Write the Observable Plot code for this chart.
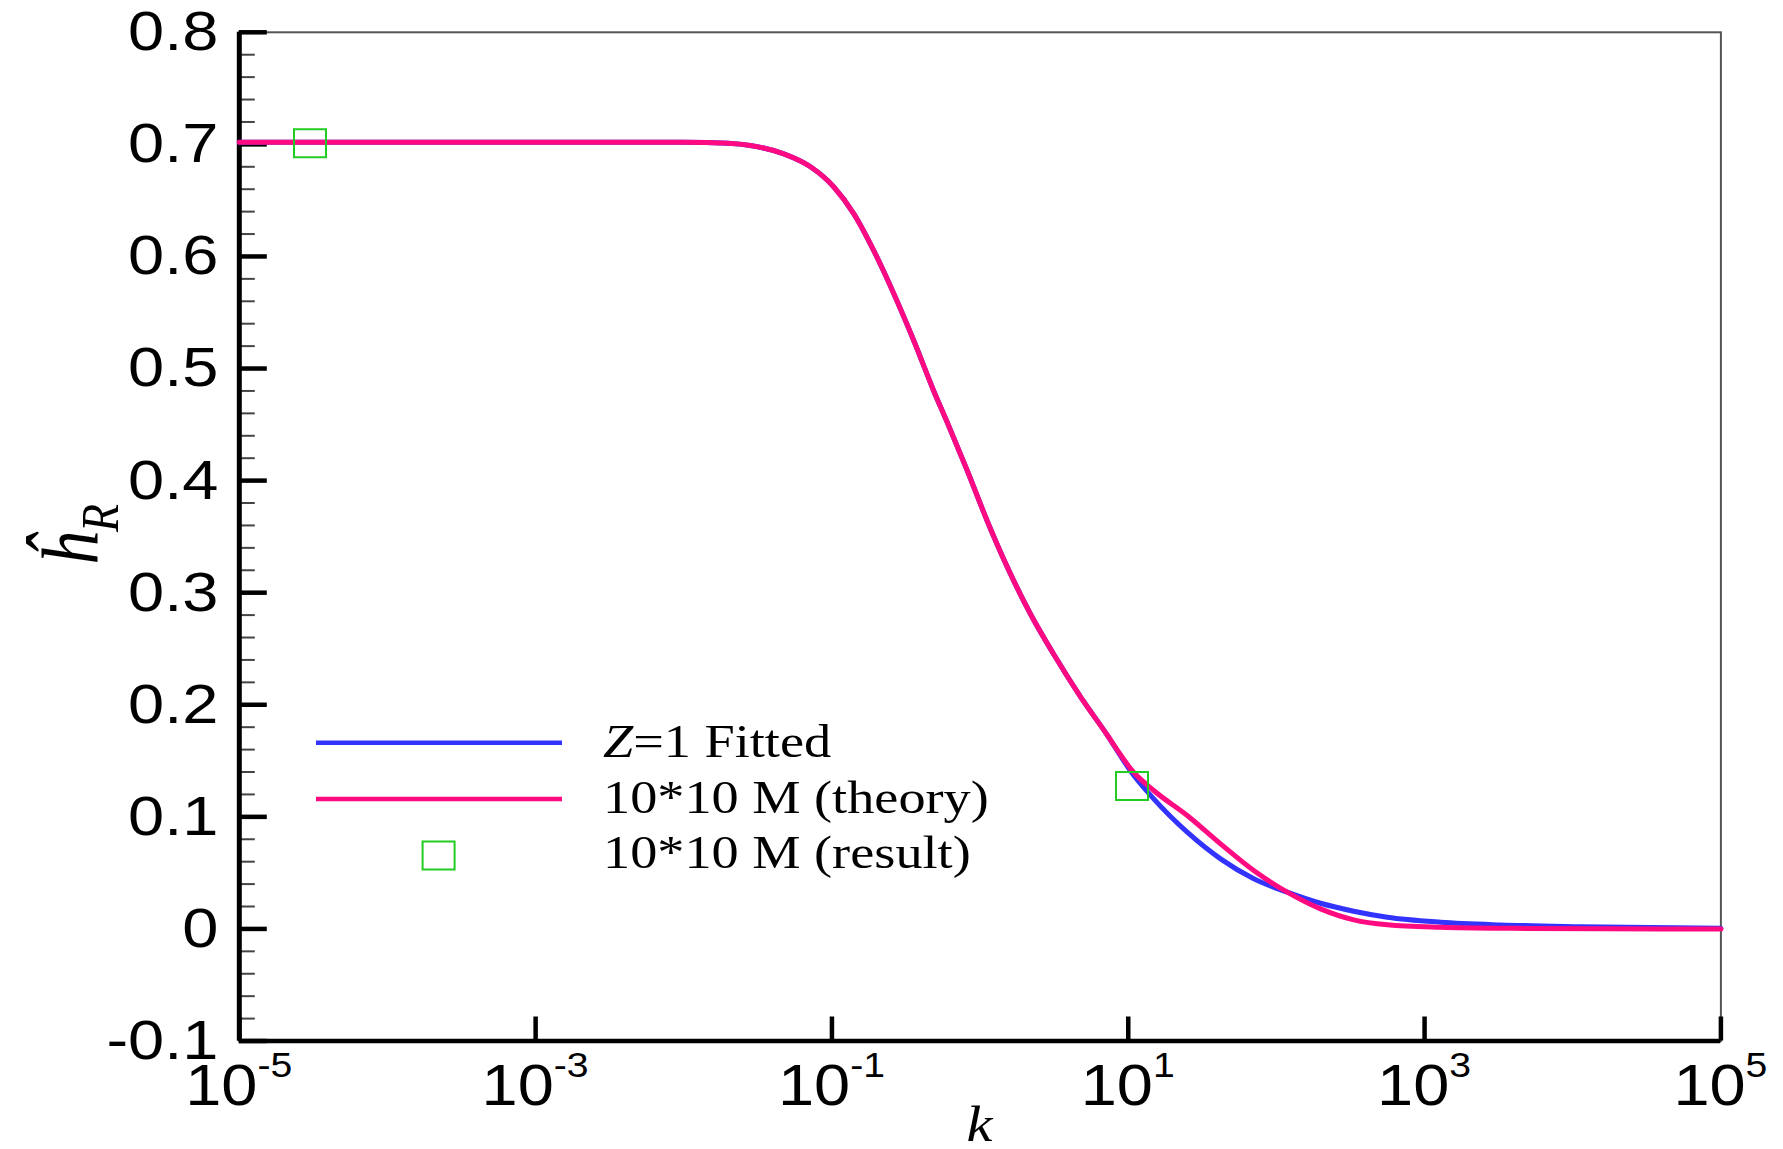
<!DOCTYPE html>
<html><head><meta charset="utf-8">
<script src="https://cdn.jsdelivr.net/npm/d3@7"></script>
<script src="https://cdn.jsdelivr.net/npm/@observablehq/plot@0.6"></script>
<style>
html,body{margin:0;padding:0;background:#fff;overflow:hidden;}
#chart{width:1783px;height:1149px;}
#chart svg{display:block;}
</style>
</head><body><div id="chart"></div>
<script>
// ---- data ----
const seriesNames = ["Z=1 Fitted", "10*10 M (theory)", "10*10 M (result)"];
const seriesColors = ["#3333ff", "#ff0a80", "#22cc22"];

// exponents of k (k = 10^e) and values of h_R
const fittedExp = [-5, -3, -2, -1.7, -1.55, -1.325, -1.145, -0.987, -0.852, -0.717, -0.583, -0.448, -0.313, -0.222, -0.087, 0.048, 0.183, 0.34, 0.497, 0.678, 0.858, 0.95, 1.015, 1.172, 1.398, 1.623, 1.847, 2.073, 2.298, 2.522, 2.748, 3.108, 3.512, 4.05, 5];
const fittedH   = [0.702, 0.702, 0.702, 0.701, 0.699, 0.6915, 0.680, 0.662, 0.638, 0.605, 0.567, 0.525, 0.480, 0.452, 0.409, 0.364, 0.323, 0.281, 0.245, 0.207, 0.173, 0.154, 0.141, 0.116, 0.0863, 0.0625, 0.0447, 0.0328, 0.0229, 0.0158, 0.0104, 0.006, 0.0036, 0.002, 0.0005];

const theoryExp = [-5, -3, -2, -1.7, -1.55, -1.325, -1.145, -0.987, -0.852, -0.717, -0.583, -0.448, -0.313, -0.222, -0.087, 0.048, 0.183, 0.34, 0.497, 0.678, 0.858, 0.95, 1.015, 1.172, 1.398, 1.623, 1.847, 2.073, 2.298, 2.522, 2.748, 3.108, 3.6, 4.2, 5];
const theoryH   = [0.702, 0.702, 0.702, 0.701, 0.699, 0.6915, 0.680, 0.662, 0.638, 0.605, 0.567, 0.525, 0.480, 0.452, 0.409, 0.364, 0.323, 0.281, 0.245, 0.207, 0.173, 0.155, 0.143, 0.1235, 0.1012, 0.0759, 0.0521, 0.0328, 0.0179, 0.0081, 0.0037, 0.0015, 0.0005, 0.0001, 0];

const resultK = [3.0e-5, 10.6];
const resultH = [0.701, 0.1275];

// ticks
const yMajorTicks = [-0.1, 0, 0.1, 0.2, 0.3, 0.4, 0.5, 0.6, 0.7, 0.8];
const yMinorTicks = [-0.08, -0.06, -0.04, -0.02, 0.02, 0.04, 0.06, 0.08, 0.12, 0.14, 0.16, 0.18, 0.22, 0.24, 0.26, 0.28, 0.32, 0.34, 0.36, 0.38, 0.42, 0.44, 0.46, 0.48, 0.52, 0.54, 0.56, 0.58, 0.62, 0.64, 0.66, 0.68, 0.72, 0.74, 0.76, 0.78];
const yTickLabels = ["-0.1", "0", "0.1", "0.2", "0.3", "0.4", "0.5", "0.6", "0.7", "0.8"];
const xTicks = [1e-5, 1e-3, 1e-1, 1e1, 1e3, 1e5];
const xTickExponents = ["-5", "-3", "-1", "1", "3", "5"];

// ---- build ----
const fitted = fittedExp.map((e, i) => ({k: 10 ** e, h: fittedH[i]}));
const theory = theoryExp.map((e, i) => ({k: 10 ** e, h: theoryH[i]}));
const result = resultK.map((k, i) => ({k, h: resultH[i]}));

const W = 1783, H = 1149;
const rectSymbol = {draw(ctx) { ctx.moveTo(-16, -14); ctx.lineTo(16, -14); ctx.lineTo(16, 14); ctx.lineTo(-16, 14); ctx.closePath(); }};

const plot = Plot.plot({
  width: W, height: H,
  marginLeft: 238.8, marginRight: 62.6, marginTop: 31.8, marginBottom: 108.5,
  style: {background: "white", fontFamily: "'Liberation Sans', Arial, sans-serif", color: "black"},
  x: {type: "log", domain: [1e-5, 1e5]},
  y: {domain: [-0.1, 0.8]},
  marks: [
    Plot.frame({stroke: "#555", strokeWidth: 2}),
    Plot.axisY({ticks: yMinorTicks, tickSize: -16, stroke: "#444", strokeWidth: 2, tickFormat: () => "", label: null}),
    Plot.axisY({ticks: yMajorTicks, tickSize: -28, stroke: "black", strokeWidth: 4.5, tickFormat: () => "", label: null}),
    Plot.axisY({ticks: yMajorTicks, tickSize: 0, tickPadding: 21, fontSize: 56, fill: "black",
      tickFormat: d => yTickLabels[yMajorTicks.indexOf(d)], label: null}),
    Plot.axisX({ticks: xTicks, tickSize: -24, stroke: "black", strokeWidth: 4.5, tickFormat: () => "", label: null}),
    Plot.ruleX([1e-5], {stroke: "black", strokeWidth: 5}),
    Plot.ruleY([-0.1], {stroke: "black", strokeWidth: 4.5}),
    Plot.line(fitted, {x: "k", y: "h", stroke: seriesColors[0], strokeWidth: 5, curve: "monotone-x"}),
    Plot.line(theory, {x: "k", y: "h", stroke: seriesColors[1], strokeWidth: 5, curve: "monotone-x"}),
    Plot.dot(result, {x: "k", y: "h", symbol: rectSymbol, r: 5, stroke: seriesColors[2], strokeWidth: 2, fill: "none"})
  ]
});
document.getElementById("chart").append(plot);

const svg = d3.select(plot);
const xs = plot.scale("x"), ys = plot.scale("y");

function stretch(el, sx, sy = 1) {
  const x = +el.getAttribute("x") || 0, y = +el.getAttribute("y") || 0;
  const t = el.getAttribute("transform") || "";
  el.setAttribute("transform", `${t} translate(${x},${y}) scale(${sx},${sy}) translate(${-x},${-y})`);
}

// stretch y tick labels horizontally like the reference
plot.querySelectorAll('g[aria-label="y-axis tick label"] text').forEach(t => stretch(t, 1.16));

// x tick labels: 10 with superscript exponent
const xBase = ys.apply(-0.1) + 64.5;
xTicks.forEach((v, i) => {
  const t = svg.append("text")
    .attr("x", xs.apply(v)).attr("y", xBase)
    .attr("text-anchor", "middle")
    .attr("font-family", "'Liberation Sans', Arial, sans-serif")
    .attr("fill", "black");
  t.append("tspan").attr("font-size", 58).text("10");
  t.append("tspan").attr("font-size", 35).attr("dy", -28).text(xTickExponents[i]);
  stretch(t.node(), 1.12);
});

// x axis title
const xMid = (xs.range[0] + xs.range[1]) / 2;
const kt = svg.append("text").attr("x", xMid).attr("y", 1141)
  .attr("text-anchor", "middle").attr("font-family", "'Liberation Serif','Times New Roman',serif")
  .attr("font-style", "italic").attr("font-size", 50).attr("fill", "black").text("k");
stretch(kt.node(), 1.17);

// y axis title (rotated)
const yl = svg.append("text")
  .attr("transform", "translate(97,566) rotate(-90) scale(1,1.17)")
  .attr("text-anchor", "start")
  .attr("font-family", "'Liberation Serif','Times New Roman',serif")
  .attr("font-style", "italic").attr("fill", "black");
yl.append("tspan").attr("font-size", 68).text("ĥ");
yl.append("tspan").attr("font-size", 46).attr("dy", 18).text("R");

// legend
const lg = svg.append("g");
const legendRows = [
  {type: "line", y: 742.7, base: 757},
  {type: "line", y: 799, base: 813},
  {type: "square", y: 855.5, base: 868}
];
legendRows.forEach((r, i) => {
  if (r.type === "line") {
    lg.append("line").attr("x1", 316).attr("x2", 562).attr("y1", r.y).attr("y2", r.y)
      .attr("stroke", seriesColors[i]).attr("stroke-width", 4.5);
  } else {
    lg.append("rect").attr("x", 438.6 - 16).attr("y", r.y - 14).attr("width", 32).attr("height", 28)
      .attr("fill", "none").attr("stroke", seriesColors[i]).attr("stroke-width", 2);
  }
  const t = lg.append("text").attr("x", 603).attr("y", r.base)
    .attr("text-anchor", "start")
    .attr("font-family", "'Liberation Serif','Times New Roman',serif")
    .attr("font-size", 46).attr("fill", "black");
  const name = seriesNames[i];
  if (name.startsWith("Z")) {
    t.append("tspan").attr("font-style", "italic").text("Z");
    t.append("tspan").text(name.slice(1));
  } else {
    t.text(name);
  }
  stretch(t.node(), 1.18);
});
</script>
</body></html>
